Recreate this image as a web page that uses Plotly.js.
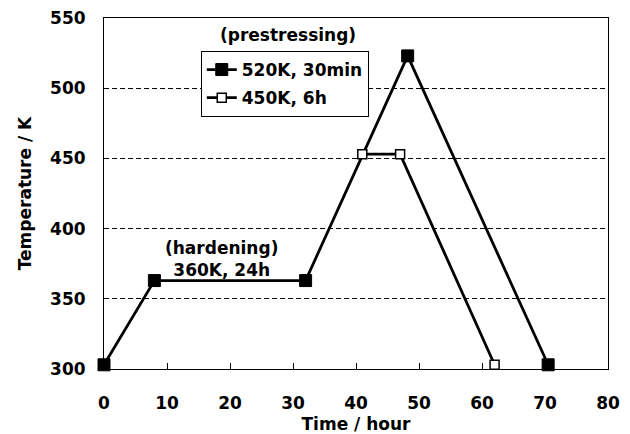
<!DOCTYPE html>
<html><head><meta charset="utf-8">
<script src="https://cdn.plot.ly/plotly-3.0.1.min.js"></script>
<style>body{margin:0;padding:0;background:#fff}#chart{width:630px;height:434px}</style>
</head><body><div id="chart"></div>
<script>
var timeA = [0, 8, 32, 48.2, 70.5];
var tempA = [303, 363, 363, 523, 303];
var timeB = [41, 47, 62];
var tempB = [453, 453, 303];
var nameA = '520K, 30min';
var nameB = '450K, 6h';
var xTicks = [0, 10, 20, 30, 40, 50, 60, 70, 80];
var yTicks = [300, 350, 400, 450, 500, 550];

var F = 'DejaVu Sans, sans-serif';
var traces = [
  {x: timeA, y: tempA, name: nameA, legendgroup: 'a', mode: 'lines+markers', type: 'scatter',
   cliponaxis: false,
   line: {color: '#000', width: 2.8},
   marker: {symbol: 'square', size: 12, color: '#000', line: {color: '#000', width: 1}}},
  {x: timeB, y: tempB, name: nameB, legendgroup: 'b', mode: 'lines+markers', type: 'scatter',
   cliponaxis: false,
   line: {color: '#000', width: 2.8},
   marker: {symbol: 'square', size: 9, color: '#fff', line: {color: '#000', width: 1.5}}}
];
var layout = {
  width: 630, height: 434,
  margin: {l: 104, r: 22, t: 18, b: 65},
  paper_bgcolor: '#fff', plot_bgcolor: '#fff',
  font: {family: F, size: 17, color: '#000', weight: 'bold'},
  showlegend: true,
  legend: {x: 0.192, y: 0.906, xanchor: 'left', yanchor: 'top',
    bordercolor: '#000', borderwidth: 1, bgcolor: '#fff', tracegroupgap: 3,
    font: {family: F, size: 17, color: '#000', weight: 'bold'}},
  xaxis: {range: [0, 80], tickvals: xTicks, ticks: 'inside', ticklen: 6, tickcolor: '#000',
    showline: true, linecolor: '#000', linewidth: 1, mirror: true, showgrid: false, zeroline: false,
    ticklabelstandoff: 19,
    tickfont: {family: F, size: 17, weight: 'bold'},
    title: {text: 'Time / hour', font: {family: F, size: 17, weight: 'bold'}, standoff: 7}},
  yaxis: {range: [300, 550], tickvals: yTicks, ticks: '', showline: true, linecolor: '#000', linewidth: 1,
    mirror: true, showgrid: true, gridcolor: '#000', gridwidth: 1, griddash: '5px,3px', zeroline: false,
    ticklabelstandoff: 14,
    tickfont: {family: F, size: 17, weight: 'bold'},
    title: {text: 'Temperature / K', font: {family: F, size: 17, weight: 'bold'}, standoff: 14}},
  annotations: [
    {text: '(prestressing)', xref: 'paper', yref: 'paper', x: 0.365, y: 0.951, showarrow: false,
     font: {family: F, size: 17, weight: 'bold'}, xanchor: 'center', yanchor: 'middle'},
    {text: '(hardening)<br>360K, 24h', xref: 'x', yref: 'y', x: 18.7, y: 378, showarrow: false,
     font: {family: F, size: 17, weight: 'bold'}, xanchor: 'center', yanchor: 'middle'}
  ]
};
Plotly.newPlot('chart', traces, layout, {displayModeBar: false, staticPlot: true});
</script></body></html>
